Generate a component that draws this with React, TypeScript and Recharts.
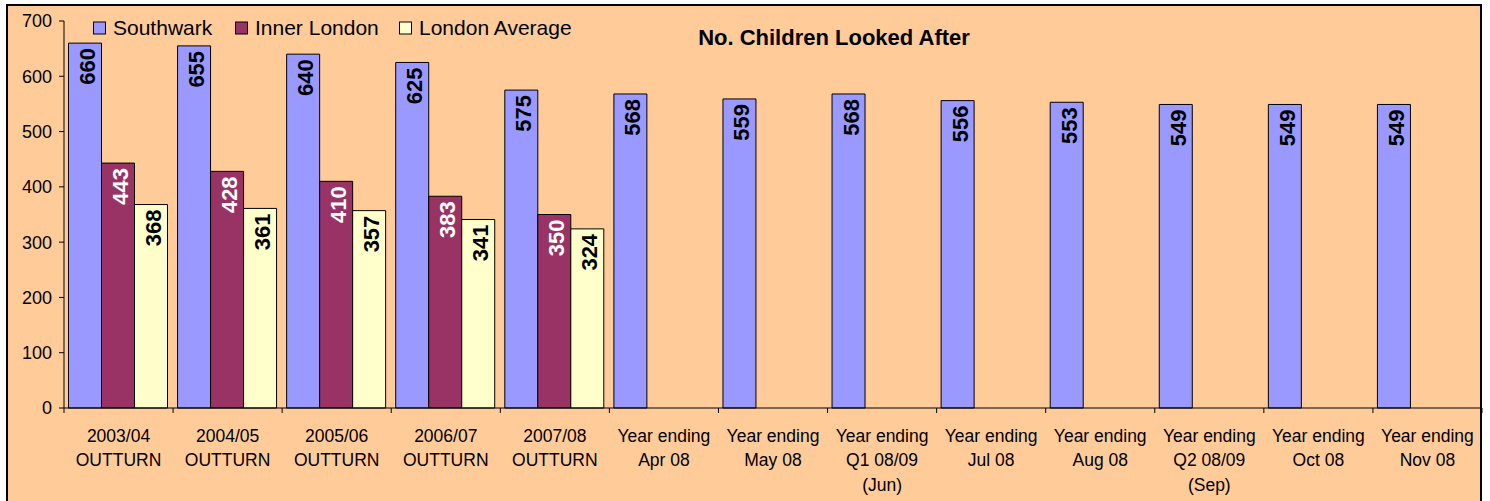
import React from 'react';
import { BarChart, Bar, XAxis, YAxis, LabelList, Customized } from 'recharts';

const categories = [
  '2003/04\nOUTTURN',
  '2004/05\nOUTTURN',
  '2005/06\nOUTTURN',
  '2006/07\nOUTTURN',
  '2007/08\nOUTTURN',
  'Year ending\nApr 08',
  'Year ending\nMay 08',
  'Year ending\nQ1 08/09\n(Jun)',
  'Year ending\nJul 08',
  'Year ending\nAug 08',
  'Year ending\nQ2 08/09\n(Sep)',
  'Year ending\nOct 08',
  'Year ending\nNov 08',
];
const southwark = [660, 655, 640, 625, 575, 568, 559, 568, 556, 553, 549, 549, 549];
const innerLondon: (number | null)[] = [443, 428, 410, 383, 350, null, null, null, null, null, null, null, null];
const londonAverage: (number | null)[] = [368, 361, 357, 341, 324, null, null, null, null, null, null, null, null];
const yTicks = [0, 100, 200, 300, 400, 500, 600, 700];
const seriesNames = ['Southwark', 'Inner London', 'London Average'];
const title = 'No. Children Looked After';

const data = categories.map((cat, i) => ({
  cat,
  southwark: southwark[i],
  inner: innerLondon[i],
  avg: londonAverage[i],
}));

const FONT = '"Liberation Sans", Arial, sans-serif';
const COLORS = ['#9999FF', '#993366', '#FFFFCC'];
const LABEL_COLORS = ['#000000', '#FFFFFF', '#000000'];
const BG = '#FFCC99';

const CHART_W = 1490;
const CHART_H = 501;
const X_H = 93;
const MARGIN = { top: 21, right: 8, bottom: 0, left: 0 };
const Y_W = 64;
const LEGEND_X = [93, 235, 399];

const makeLabel = (color: string) => (props: any) => {
  const { value } = props;
  if (value === null || value === undefined) return null;
  const vb = props.viewBox || {};
  const x = typeof props.x === 'number' ? props.x : vb.x;
  const y = typeof props.y === 'number' ? props.y : vb.y;
  const w = typeof props.width === 'number' ? props.width : vb.width;
  const cx = x + w / 2;
  const ty = y + 5;
  return (
    <text
      x={cx}
      y={ty}
      dy={10}
      transform={`rotate(-90, ${cx}, ${ty})`}
      textAnchor="end"
      fontFamily={FONT}
      fontWeight="bold"
      fontSize={22}
      fill={color}
    >
      {value}
    </text>
  );
};

const XTick = (props: any) => {
  const { x, y, payload, index, visibleTicksCount } = props;
  const count = visibleTicksCount || categories.length;
  const bw =
    typeof props.width === 'number' && props.width > 0
      ? props.width / count
      : (CHART_W - Y_W - MARGIN.right) / categories.length;
  const lines = String(payload.value).split('\n');
  return (
    <g>
      <line x1={x - bw / 2} x2={x - bw / 2} y1={y} y2={y + 5} stroke="#000" strokeWidth={1} />
      {index === count - 1 && (
        <line x1={x + bw / 2} x2={x + bw / 2} y1={y} y2={y + 5} stroke="#000" strokeWidth={1} />
      )}
      <text x={x} y={y + 34} textAnchor="middle" fontFamily={FONT} fontSize={17.5} fill="#000">
        {lines.map((l, i) => (
          <tspan key={i} x={x} dy={i === 0 ? 0 : 24.3}>
            {l}
          </tspan>
        ))}
      </text>
    </g>
  );
};

const Overlay = () => (
  <g>
    <text x={834} y={45} textAnchor="middle" fontFamily={FONT} fontWeight="bold" fontSize={22} fill="#000">
      {title}
    </text>
    {seriesNames.map((name, i) => (
      <g key={name}>
        <rect x={LEGEND_X[i] + 0.5} y={22} width={12} height={12} fill={COLORS[i]} stroke="#000" strokeWidth={1} />
        <text x={LEGEND_X[i] + 20} y={35} fontFamily={FONT} fontSize={21} fill="#000">
          {name}
        </text>
      </g>
    ))}
  </g>
);

export default function App() {
  return (
    <div
      style={{
        position: 'absolute',
        left: 0,
        top: 0,
        width: CHART_W,
        height: CHART_H,
        overflow: 'hidden',
        background: '#FFFFFF',
      }}
    >
      <div
        style={{
          position: 'absolute',
          left: 6,
          top: 4,
          width: 1476,
          height: 560,
          boxSizing: 'border-box',
          border: '2px solid #000',
          background: BG,
        }}
      />
      <div style={{ position: 'absolute', left: 0, top: 0 }}>
        <BarChart
          width={CHART_W}
          height={CHART_H}
          data={data}
          margin={MARGIN}
          barCategoryGap={4.5}
          barGap={0}
        >
          <XAxis
            dataKey="cat"
            interval={0}
            tickLine={false}
            tickSize={0}
            tickMargin={0}
            axisLine={{ stroke: '#000', strokeWidth: 1 }}
            tick={<XTick />}
            height={X_H}
          />
          <YAxis
            width={Y_W}
            domain={[0, 700]}
            ticks={yTicks}
            interval={0}
            tickSize={5}
            tickMargin={7}
            axisLine={{ stroke: '#000', strokeWidth: 1 }}
            tickLine={{ stroke: '#000', strokeWidth: 1 }}
            tick={{ fill: '#000', fontSize: 18, fontFamily: FONT }}
          />
          <Bar dataKey="southwark" name={seriesNames[0]} fill={COLORS[0]} stroke="#000" strokeWidth={1} isAnimationActive={false}>
            <LabelList dataKey="southwark" content={makeLabel(LABEL_COLORS[0])} />
          </Bar>
          <Bar dataKey="inner" name={seriesNames[1]} fill={COLORS[1]} stroke="#000" strokeWidth={1} isAnimationActive={false}>
            <LabelList dataKey="inner" content={makeLabel(LABEL_COLORS[1])} />
          </Bar>
          <Bar dataKey="avg" name={seriesNames[2]} fill={COLORS[2]} stroke="#000" strokeWidth={1} isAnimationActive={false}>
            <LabelList dataKey="avg" content={makeLabel(LABEL_COLORS[2])} />
          </Bar>
          <Customized component={Overlay} />
        </BarChart>
      </div>
    </div>
  );
}
